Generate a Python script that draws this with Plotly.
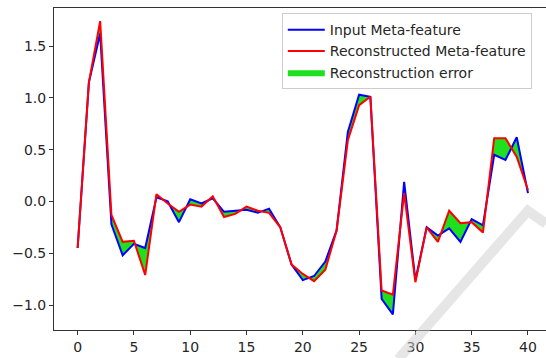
import plotly.graph_objects as go

x_idx = list(range(41))
input_meta = [-0.45, 1.15, 1.62, -0.22, -0.52, -0.41, -0.45, 0.04, 0.00, -0.20,
              0.02, -0.02, 0.03, -0.10, -0.09, -0.08, -0.11, -0.07, -0.25, -0.61,
              -0.76, -0.72, -0.58, -0.28, 0.67, 1.03, 1.01, -0.94, -1.09, 0.19,
              -0.76, -0.25, -0.33, -0.26, -0.39, -0.17, -0.23, 0.45, 0.40, 0.62, 0.08]
recon_meta = [-0.45, 1.15, 1.74, -0.13, -0.39, -0.38, -0.71, 0.07, -0.02, -0.10,
              -0.03, -0.05, 0.05, -0.15, -0.12, -0.05, -0.09, -0.11, -0.25, -0.61,
              -0.70, -0.77, -0.66, -0.28, 0.59, 0.93, 1.01, -0.86, -0.90, 0.08,
              -0.78, -0.25, -0.39, -0.09, -0.21, -0.20, -0.30, 0.61, 0.61, 0.43, 0.11]
x_ticks = [0, 5, 10, 15, 20, 25, 30, 35, 40]
y_ticks = [-1.0, -0.5, 0.0, 0.5, 1.0, 1.5]
y_tick_labels = ["\u22121.0", "\u22120.5", "0.0", "0.5", "1.0", "1.5"]

fig = go.Figure()
# base for the error fill
fig.add_trace(go.Scatter(x=x_idx, y=input_meta, mode="lines", line=dict(width=0, color="rgba(0,0,0,0)"),
                         showlegend=False, hoverinfo="skip"))
fig.add_trace(go.Scatter(x=x_idx, y=recon_meta, mode="lines", fill="tonexty",
                         fillcolor="#1ee01e", line=dict(width=0, color="#1ee01e"),
                         name="Reconstruction error", legendrank=3))
fig.add_trace(go.Scatter(x=x_idx, y=input_meta, mode="lines", line=dict(color="blue", width=2),
                         name="Input Meta-feature", legendrank=1))
fig.add_trace(go.Scatter(x=x_idx, y=recon_meta, mode="lines", line=dict(color="red", width=2),
                         name="Reconstructed Meta-feature", legendrank=2))

# watermark-like light grey chevron
fig.add_shape(type="path", xref="paper", yref="paper",
              path="M 0.70 -0.09 L 0.963 0.37 L 1.0 0.33",
              line=dict(color="rgba(205,205,205,0.5)", width=10), layer="above")

fig.update_layout(
    width=546, height=358,
    margin=dict(l=54, r=0, t=8, b=28),
    paper_bgcolor="white", plot_bgcolor="white",
    font=dict(family="DejaVu Sans", size=14, color="#262626"),
    showlegend=True,
    legend=dict(x=0.463, y=0.984, xanchor="left", yanchor="top", traceorder="normal",
                bordercolor="#cccccc", borderwidth=1, bgcolor="rgba(255,255,255,0.85)",
                font=dict(size=14, color="#262626"), tracegroupgap=0,
                itemwidth=37),
    xaxis=dict(range=[-2.1, 41.6], tickvals=x_ticks, showgrid=False, zeroline=False,
               showline=True, linecolor="#333333", linewidth=1, mirror=True,
               ticks="outside", ticklen=4, tickcolor="#333333"),
    yaxis=dict(range=[-1.241, 1.867], tickvals=y_ticks, ticktext=y_tick_labels,
               showgrid=False, zeroline=False, showline=True, linecolor="#333333",
               linewidth=1, ticks="outside", ticklen=4, tickcolor="#333333"),
)

fig.write_html("out.html", config={"displayModeBar": False},
               post_script="document.body.style.margin='0';")
